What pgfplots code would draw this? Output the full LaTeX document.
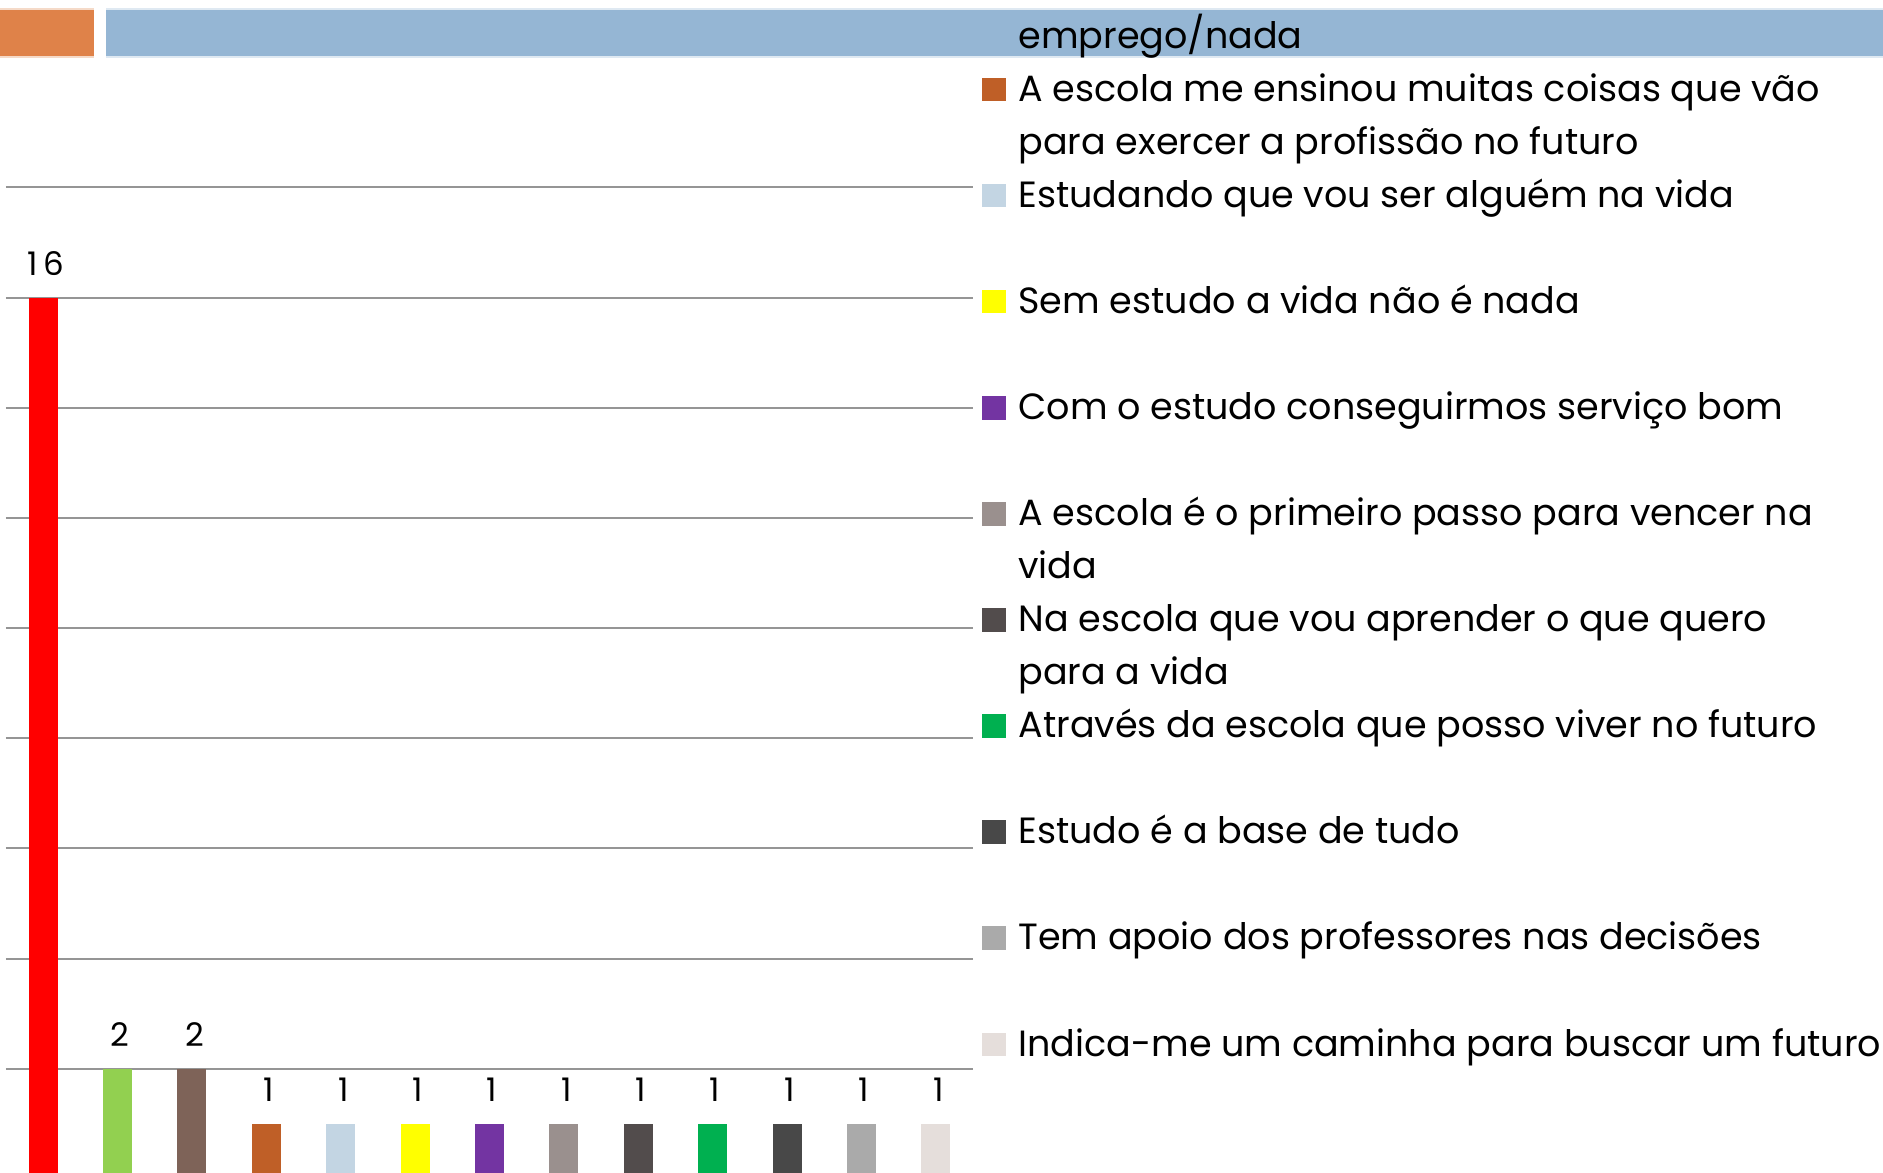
\documentclass[border=0pt]{standalone}
\usepackage{pgfplots}
\pgfplotsset{compat=1.18}
\usepackage{fontspec}
\setmainfont{Poppins}
\newfontfamily\lblfam{Poppins}[LetterSpace=18]
\definecolor{gridgray}{HTML}{959595}
\definecolor{bannerorange}{HTML}{DF8249}
\definecolor{bannerblue}{HTML}{95B6D4}
\definecolor{cA}{HTML}{FF0000}
\definecolor{cB}{HTML}{92D050}
\definecolor{cC}{HTML}{7E6358}
\definecolor{cD}{HTML}{BF5F27}
\definecolor{cE}{HTML}{C3D5E3}
\definecolor{cF}{HTML}{FFFF00}
\definecolor{cG}{HTML}{7334A2}
\definecolor{cH}{HTML}{9A908E}
\definecolor{cI}{HTML}{524C4C}
\definecolor{cJ}{HTML}{00B050}
\definecolor{cK}{HTML}{484848}
\definecolor{cL}{HTML}{AAAAAA}
\definecolor{cM}{HTML}{E5DEDB}
\newcommand\legfont{\fontsize{7.3pt}{10.56pt}\selectfont}
\newcommand\lblfont{\lblfam\fontsize{6.5pt}{7pt}\selectfont}
\newcommand\entry[1]{\parbox[t]{230pt}{\legfont #1}}
\begin{document}
\begin{tikzpicture}
\path[use as bounding box] (0,0) rectangle (376.6pt,234.6pt);
\clip (0,0) rectangle (376.6pt,234.6pt);
\fill[bannerorange] (0pt,223.14pt) rectangle (18.8pt,232.7pt);
\fill[bannerblue] (21.2pt,223.14pt) rectangle (376.6pt,232.7pt);
\draw[white!70!bannerorange, line width=0.4pt] (0pt,223.14pt) -- (18.8pt,223.14pt) (0pt,232.7pt) -- (18.8pt,232.7pt);
\draw[white!70!bannerblue, line width=0.4pt] (21.2pt,223.14pt) -- (376.6pt,223.14pt) (21.2pt,232.7pt) -- (376.6pt,232.7pt);
\begin{axis}[
  at={(1.2pt,-1.2pt)}, anchor=south west,
  width=193.4pt, height=209.34pt, scale only axis,
  xmin=-0.5, xmax=12.5, ymin=0, ymax=19,
  ybar,
  every axis plot post/.append style={bar shift=0pt, bar width=5.8pt, draw=none},
  axis line style={draw=none}, tick style={draw=none},
  xtick=\empty, ytick={2,4,...,18}, yticklabels={},
  ymajorgrids, grid style={color=gridgray, line width=0.4pt},
  /pgf/number format/assume math mode=true,
  nodes near coords,
  every node near coord/.append style={font=\lblfont, anchor=base, yshift=4.4pt, xshift=0.5pt, inner sep=0pt, text=black},
  legend image code/.code={\fill[#1] (0pt,0pt) rectangle (4.7pt,4.7pt);},
  legend style={draw=none, fill=none, at={(1.009307,1.16442)}, anchor=north west,
    inner sep=0pt, outer sep=0pt, row sep=0pt, column sep=2.6pt,
    cells={anchor=base west},
    nodes={inner sep=0pt, outer sep=0pt, text height=7pt, text depth=14.216pt}},
]
\addplot[fill=cA, forget plot] coordinates {(0,16)};
\addplot[fill=cB, forget plot] coordinates {(1,2)};
\addplot[fill=cC] coordinates {(2,2)};
\addlegendentry{\entry{\strut\\emprego/nada}}
\addplot[fill=cD] coordinates {(3,1)};
\addlegendentry{\entry{A escola me ensinou muitas coisas que vão\\para exercer a profissão no futuro}}
\addplot[fill=cE] coordinates {(4,1)};
\addlegendentry{\entry{Estudando que vou ser alguém na vida}}
\addplot[fill=cF] coordinates {(5,1)};
\addlegendentry{\entry{Sem estudo a vida não é nada}}
\addplot[fill=cG] coordinates {(6,1)};
\addlegendentry{\entry{Com o estudo conseguirmos serviço bom}}
\addplot[fill=cH] coordinates {(7,1)};
\addlegendentry{\entry{A escola é o primeiro passo para vencer na\\vida}}
\addplot[fill=cI] coordinates {(8,1)};
\addlegendentry{\entry{Na escola que vou aprender o que quero\\para a vida}}
\addplot[fill=cJ] coordinates {(9,1)};
\addlegendentry{\entry{Através da escola que posso viver no futuro}}
\addplot[fill=cK] coordinates {(10,1)};
\addlegendentry{\entry{Estudo é a base de tudo}}
\addplot[fill=cL] coordinates {(11,1)};
\addlegendentry{\entry{Tem apoio dos professores nas decisões}}
\addplot[fill=cM] coordinates {(12,1)};
\addlegendentry{\entry{Indica-me um caminha para buscar um futuro}}
\end{axis}
\end{tikzpicture}
\end{document}
